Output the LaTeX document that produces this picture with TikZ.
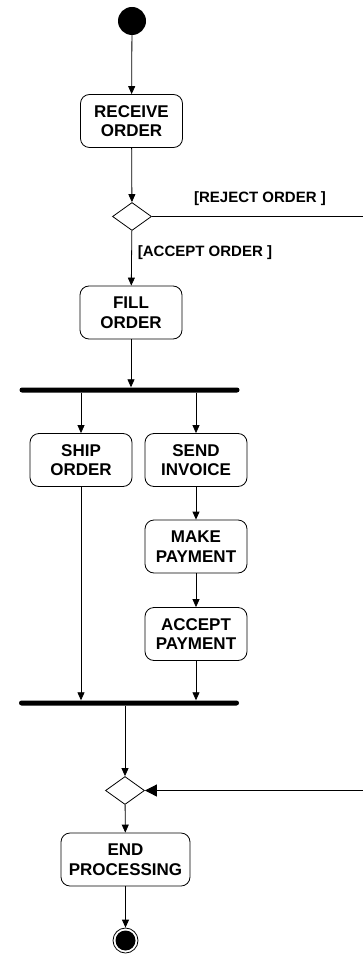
\documentclass[tikz,border=0pt]{standalone}
\usepackage{fontspec}
\setmainfont{Liberation Sans}
\usetikzlibrary{arrows.meta,shapes.geometric}
\tikzset{
  act/.style={draw, rounded corners=9pt, line width=0.8pt, minimum width=102pt, minimum height=53pt,
    inner sep=0pt, align=center, font=\fontsize{17}{19.6}\selectfont\bfseries},
  decide/.style={draw, diamond, line width=0.8pt, minimum width=39pt, minimum height=28pt, inner sep=0pt},
  syncbar/.style={fill=black, rounded corners=2.5pt, minimum height=5pt, inner sep=0pt},
  flow/.style={line width=0.8pt, -{Triangle[length=8pt,width=7pt]}},
  guard/.style={font=\fontsize{15}{16}\selectfont\bfseries, inner sep=0pt}
}
\begin{document}
\begin{tikzpicture}[x=1pt,y=-1pt]
			%%%%% START %%%%%
			\useasboundingbox (0,0) rectangle (363,965);
			
			\node[circle, fill=black, minimum size=28pt, inner sep=0pt] (start) at (132, 21) {};
			\node[act] (receive) at (131.5, 121) {RECEIVE\\ORDER};
			\node[decide] (check) at (132, 216.5) {};
			\node[act] (fill) at (131, 312.5) {FILL\\ORDER};
			
			\node[guard] (reject) at (260, 199) {[REJECT ORDER ]};
			\node[guard] (accept) at (205, 253) {[ACCEPT ORDER ]};
			\coordinate (rejectend) at (363, 216.5);
			
			\node[syncbar, minimum width=220pt] (fork) at (129.5, 390) {};
			\node[act] (ship) at (81, 460) {SHIP\\ORDER};
			\node[act] (invoice) at (196, 460) {SEND\\INVOICE};
			\node[act] (pay) at (196, 546.5) {MAKE\\PAYMENT};
			\node[act] (acceptpay) at (196, 634) {ACCEPT\\PAYMENT};
			\node[syncbar, minimum width=220pt] (join) at (129, 703) {};
			
			\node[decide] (merge) at (125, 790.5) {};
			\coordinate (returnend) at (363, 790.5);
			\node[act, minimum width=129pt] (endproc) at (125.5, 859.5) {END\\PROCESSING};
			\node[circle, draw, line width=0.8pt, minimum size=25pt, inner sep=0pt] (final) at (125.5, 940.5) {};
			\node[circle, fill=black, minimum size=20pt, inner sep=0pt] at (final) {};
			
			\draw[flow] (start) -- (receive);
			\draw[flow] (receive) -- (check);
			\draw[flow] (check) -- (fill);
			\draw[line width=0.8pt] (check.east) -- (rejectend);
			\draw[flow] (fill) -- (fill.south |- fork.north);
			\draw[flow] (ship.north |- fork.south) -- (ship);
			\draw[flow] (invoice.north |- fork.south) -- (invoice);
			\draw[flow] (invoice) -- (pay);
			\draw[flow] (pay) -- (acceptpay);
			\draw[flow] (ship) -- (ship.south |- join.north);
			\draw[flow] (acceptpay) -- (acceptpay.south |- join.north);
			\draw[flow] (merge.north |- join.south) -- (merge);
			\draw[line width=0.8pt, -{Triangle[length=12pt,width=12pt]}] (returnend) -- (merge.east);
			\draw[flow] (merge) -- (endproc);
			\draw[flow] (endproc) -- (final);
			%%%%% END %%%%%
\end{tikzpicture}
\end{document}
